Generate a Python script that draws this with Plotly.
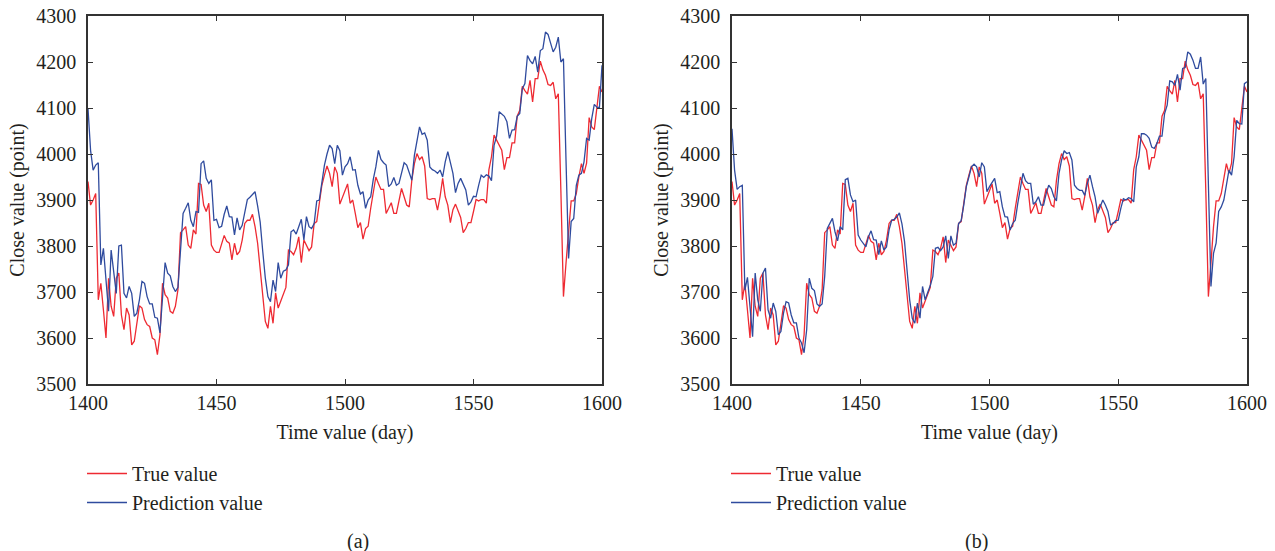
import plotly.graph_objects as go

days = list(range(1400, 1601))

true_value = [
    3940, 3889, 3900, 3914, 3683, 3719, 3661, 3600, 3730, 3669,
    3647, 3730, 3741, 3650, 3618, 3665, 3650, 3585, 3593, 3629,
    3670, 3665, 3640, 3629, 3625, 3600, 3596, 3564, 3607, 3719,
    3694, 3687, 3658, 3654, 3669, 3705, 3829, 3835, 3842, 3802,
    3795, 3835, 3826, 3936, 3934, 3889, 3875, 3893, 3802, 3791,
    3786, 3786, 3806, 3823, 3810, 3806, 3770, 3806, 3781, 3788,
    3813, 3849, 3856, 3856, 3869, 3842, 3806, 3745, 3680, 3636,
    3621, 3669, 3632, 3698, 3665, 3679, 3694, 3710, 3791, 3788,
    3781, 3795, 3820, 3764, 3813, 3802, 3790, 3798, 3849, 3853,
    3893, 3932, 3954, 3974, 3958, 3929, 3972, 3958, 3891, 3907,
    3922, 3935, 3893, 3900, 3871, 3840, 3851, 3815, 3838, 3843,
    3882, 3918, 3950, 3936, 3923, 3923, 3871, 3882, 3894, 3871,
    3871, 3898, 3925, 3907, 3889, 3885, 3943, 3979, 4001, 3988,
    3994, 3974, 3903, 3901, 3903, 3903, 3878, 3908, 3947, 3907,
    3889, 3851, 3879, 3891, 3878, 3862, 3829, 3838, 3851, 3851,
    3875, 3901, 3898, 3901, 3901, 3893, 3966, 3994, 4041, 4029,
    4019, 4008, 3966, 3992, 3992, 4024, 4024, 4082, 4095, 4147,
    4138, 4130, 4160, 4113, 4164, 4164, 4202, 4183, 4171, 4151,
    4149, 4156, 4120, 4131, 3920, 3690, 3763, 3842, 3898, 3898,
    3914, 3950, 3979, 3958, 3980, 4079, 4059, 4053, 4102, 4147,
    4135,
]

prediction_a = [
    4099, 4008, 3965, 3976, 3981, 3759, 3795, 3734, 3658, 3791,
    3741, 3697, 3800, 3802, 3697, 3687, 3712, 3697, 3647, 3654,
    3683, 3723, 3719, 3690, 3674, 3674, 3645, 3643, 3611, 3690,
    3764, 3741, 3735, 3712, 3701, 3710, 3791, 3871, 3882, 3894,
    3856, 3842, 3875, 3873, 3979, 3985, 3947, 3936, 3944, 3856,
    3858, 3840, 3843, 3869, 3887, 3864, 3863, 3824, 3861, 3835,
    3845, 3871, 3901, 3906, 3911, 3918, 3887, 3852, 3788, 3730,
    3690, 3679, 3726, 3701, 3764, 3730, 3745, 3748, 3759, 3831,
    3835, 3826, 3842, 3858, 3813, 3864, 3842, 3838, 3849, 3898,
    3900, 3943, 3976, 4000, 4019, 4012, 3979, 4019, 4007, 3954,
    3972, 3979, 3994, 3965, 3966, 3932, 3913, 3918, 3882, 3900,
    3907, 3945, 3972, 4008, 3988, 3981, 3976, 3929, 3935, 3949,
    3932, 3936, 3958, 3981, 3976, 3958, 3943, 3997, 4030, 4059,
    4043, 4046, 4030, 3972, 3966, 3963, 3958, 3965, 3950, 3983,
    4005, 3979, 3958, 3916, 3936, 3947, 3936, 3922, 3889, 3896,
    3908, 3907, 3932, 3954, 3949, 3955, 3952, 3942, 4019, 4039,
    4092, 4088, 4082, 4070, 4034, 4052, 4053, 4082, 4088, 4142,
    4153, 4214, 4203, 4196, 4212, 4178, 4225, 4229, 4265, 4260,
    4243, 4222, 4232, 4254, 4200, 4207, 3986, 3773, 3853, 3860,
    3932, 3954, 3958, 3983, 4034, 4030, 4077, 4108, 4102, 4101,
    4193,
]

prediction_b = [
    4055, 3965, 3923, 3929, 3932, 3704, 3732, 3661, 3603, 3741,
    3683, 3658, 3741, 3752, 3661, 3643, 3676, 3658, 3607, 3614,
    3654, 3679, 3676, 3650, 3633, 3633, 3600, 3589, 3568, 3618,
    3730, 3708, 3703, 3674, 3669, 3674, 3734, 3838, 3849, 3860,
    3831, 3811, 3842, 3835, 3944, 3947, 3911, 3896, 3900, 3824,
    3813, 3806, 3798, 3820, 3833, 3814, 3813, 3781, 3811, 3791,
    3798, 3835, 3856, 3858, 3863, 3872, 3848, 3810, 3748, 3683,
    3643, 3632, 3676, 3643, 3712, 3683, 3699, 3714, 3734, 3795,
    3797, 3790, 3798, 3822, 3773, 3822, 3802, 3806, 3849, 3855,
    3889, 3929, 3950, 3972, 3978, 3972, 3950, 3981, 3972, 3918,
    3929, 3938, 3947, 3916, 3918, 3885, 3864, 3863, 3835, 3849,
    3856, 3893, 3925, 3958, 3942, 3936, 3936, 3891, 3896, 3907,
    3889, 3889, 3914, 3932, 3925, 3907, 3898, 3958, 3987, 4007,
    4001, 4003, 3987, 3932, 3925, 3921, 3921, 3910, 3936, 3954,
    3929, 3907, 3871, 3885, 3900, 3889, 3875, 3846, 3849, 3855,
    3856, 3882, 3903, 3900, 3905, 3903, 3896, 3972, 3994, 4044,
    4044, 4041, 4034, 4015, 4012, 4023, 4039, 4039, 4088, 4106,
    4159, 4157, 4149, 4173, 4139, 4186, 4188, 4222, 4217, 4204,
    4186, 4186, 4211, 4152, 4164, 3936, 3712, 3784, 3806, 3875,
    3885, 3900, 3936, 3965, 3954, 3994, 4073, 4066, 4065, 4153,
    4157,
]

x_ticks = [1400, 1450, 1500, 1550, 1600]
y_ticks = [3500, 3600, 3700, 3800, 3900, 4000, 4100, 4200, 4300]
panel_labels = ["(a)", "(b)"]

RED = "#ee2a32"
BLUE = "#2f4b9e"
FONT = "Liberation Serif"
TXT = "#231f20"
AXCOL = "#333333"
FS = 20

fig = go.Figure()

fig.add_trace(go.Scatter(x=days, y=true_value, mode="lines", name="True value",
                         line=dict(color=RED, width=1.3), xaxis="x", yaxis="y", legend="legend"))
fig.add_trace(go.Scatter(x=days, y=prediction_a, mode="lines", name="Prediction value",
                         line=dict(color=BLUE, width=1.3), xaxis="x", yaxis="y", legend="legend"))
fig.add_trace(go.Scatter(x=days, y=true_value, mode="lines", name="True value",
                         line=dict(color=RED, width=1.3), xaxis="x2", yaxis="y2", legend="legend2"))
fig.add_trace(go.Scatter(x=days, y=prediction_b, mode="lines", name="Prediction value",
                         line=dict(color=BLUE, width=1.3), xaxis="x2", yaxis="y2", legend="legend2"))

W, H = 1275, 551
dom_a = [88 / W, 602 / W]
dom_b = [732 / W, 1247 / W]
ydom = [1 - 384 / H, 1 - 16 / H]

def xaxis(domain, anchor):
    return dict(domain=domain, anchor=anchor, range=[1400, 1600], tickvals=x_ticks,
                ticks="inside", ticklen=5, tickwidth=1.2, tickcolor=AXCOL,
                showline=True, linecolor=AXCOL, linewidth=1.5, mirror="allticks",
                showgrid=False, zeroline=False, automargin=False,
                tickfont=dict(family=FONT, size=FS, color=TXT),
                title=dict(text="Time value (day)", standoff=12,
                           font=dict(family=FONT, size=FS, color=TXT)))

def yaxis(anchor):
    return dict(domain=ydom, anchor=anchor, range=[3500, 4300], tickvals=y_ticks,
                ticks="inside", ticklen=5, tickwidth=1.2, tickcolor=AXCOL,
                showline=True, linecolor=AXCOL, linewidth=1.5, mirror="allticks",
                showgrid=False, zeroline=False, automargin=False,
                ticklabelstandoff=6,
                tickfont=dict(family=FONT, size=FS, color=TXT),
                title=dict(text="Close value (point)", standoff=6,
                           font=dict(family=FONT, size=FS, color=TXT)))

legend_common = dict(xanchor="left", yanchor="top", bgcolor="rgba(0,0,0,0)",
                     font=dict(family=FONT, size=FS, color=TXT),
                     itemwidth=40, tracegroupgap=0)

fig.update_layout(
    width=W, height=H,
    margin=dict(l=0, r=0, t=0, b=0, autoexpand=False),
    paper_bgcolor="white", plot_bgcolor="white",
    showlegend=True,
    xaxis=xaxis(dom_a, "y"), yaxis=yaxis("x"),
    xaxis2=xaxis(dom_b, "y2"), yaxis2=yaxis("x2"),
    legend=dict(x=82 / W, y=1 - 454 / H, **legend_common),
    legend2=dict(x=726 / W, y=1 - 454 / H, **legend_common),
    annotations=[
        dict(text=panel_labels[0], x=(dom_a[0] + dom_a[1]) / 2, y=1 - 541 / H, xref="paper", yref="paper",
             yanchor="middle", showarrow=False, font=dict(family=FONT, size=FS, color=TXT)),
        dict(text=panel_labels[1], x=(dom_b[0] + dom_b[1]) / 2, y=1 - 541 / H, xref="paper", yref="paper",
             yanchor="middle", showarrow=False, font=dict(family=FONT, size=FS, color=TXT)),
    ],
)

fig.write_html("out.html", config={"displayModeBar": False},
               post_script="document.body.style.margin='0';document.body.style.padding='0';")
